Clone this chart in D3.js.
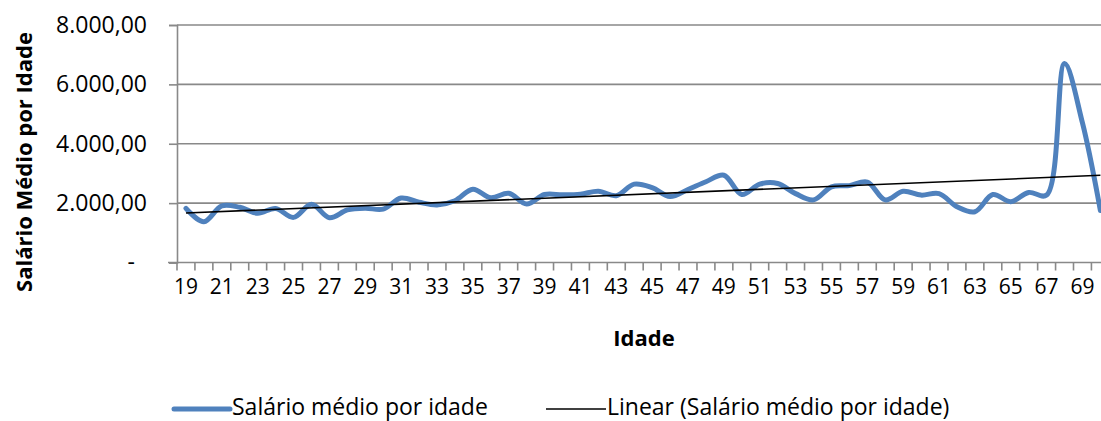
<!DOCTYPE html>
<html><head><meta charset="utf-8">
<script src="https://cdn.jsdelivr.net/npm/d3@7/dist/d3.min.js"></script>
<style>
body{margin:0;background:#fff}
svg{display:block;background:#fff}
text{font-family:"Open Sans",sans-serif;fill:#000}
</style>
</head><body>
<svg id="chart" width="1101" height="421"></svg>
<script>
// ---- data ----
const ages = [19,20,21,22,23,24,25,26,27,28,29,30,31,32,33,34,35,36,37,38,39,40,41,42,43,44,
              45,46,47,48,49,50,51,52,53,54,55,56,57,58,59,60,61,62,63,64,65,66,67,68,69,70];
const salaries = [1825,1375,1910,1860,1660,1820,1520,1960,1510,1770,1830,1800,2170,2030,1940,2080,
                  2470,2180,2330,1970,2290,2280,2300,2400,2250,2640,2520,2220,2460,2720,2940,2290,
                  2640,2660,2320,2110,2550,2590,2710,2110,2400,2270,2320,1880,1710,2290,2050,2360,
                  2270,6700,4700,1750];
const xTickLabels = [19,21,23,25,27,29,31,33,35,37,39,41,43,45,47,49,51,53,55,57,59,61,63,65,67,69];
const yTickValues = [0,2000,4000,6000,8000];
const yTickLabels = ["-","2.000,00","4.000,00","6.000,00","8.000,00"];
const seriesName = "Salário médio por idade";
const trendName = "Linear (Salário médio por idade)";
const xTitle = "Idade";
const yTitle = "Salário Médio por Idade";

// ---- layout ----
const svg = d3.select("#chart");
const plotLeft = 177, step = 17.93, plotTop = 25, plotBottom = 262.5;
const x = d3.scaleBand().domain(ages).range([plotLeft, plotLeft + step*ages.length]).padding(0);
const y = d3.scaleLinear().domain([0, 8000]).range([plotBottom, plotTop]);
const cx = a => x(a) + x.bandwidth()/2;
const gridCol = "#898989";

// gridlines
svg.append("g").selectAll("line").data(yTickValues.filter(v => v > 0)).join("line")
  .attr("x1", plotLeft).attr("x2", 1101)
  .attr("y1", d => y(d)).attr("y2", d => y(d))
  .attr("stroke", gridCol).attr("stroke-width", 1.6);

// y axis
const yAxis = d3.axisLeft(y).tickValues(yTickValues)
  .tickFormat((d,i) => yTickLabels[i]).tickSize(8).tickPadding(22);
const gy = svg.append("g").attr("transform", `translate(${plotLeft},0)`).call(yAxis);
gy.select(".domain").attr("stroke", gridCol).attr("stroke-width", 1.6);
gy.selectAll(".tick line").attr("stroke", gridCol).attr("stroke-width", 1.6);
gy.selectAll(".tick text").style("font-size", "23px").style("font-family", "'Open Sans',sans-serif").attr("fill", "#000")
  .attr("dx", d => d === 0 ? -12 : 0);

// x axis: labels at category centers, ticks at category boundaries
const xAxis = d3.axisBottom(x).tickValues(xTickLabels).tickSize(0).tickPadding(17);
const gx = svg.append("g").attr("transform", `translate(0,${plotBottom})`).call(xAxis);
gx.select(".domain").remove();
gx.selectAll(".tick text").style("font-size", "21px").style("font-family", "'Open Sans',sans-serif").attr("fill", "#000");
svg.append("line").attr("x1", plotLeft - 9).attr("x2", 1101).attr("y1", plotBottom).attr("y2", plotBottom)
  .attr("stroke", gridCol).attr("stroke-width", 1.6);
svg.append("g").selectAll("line").data(ages).join("line")
  .attr("x1", d => x(d)).attr("x2", d => x(d))
  .attr("y1", plotBottom).attr("y2", plotBottom + 8)
  .attr("stroke", gridCol).attr("stroke-width", 1.6);

// series line
const data = ages.map((a,i) => ({a, v: salaries[i]}));
const line = d3.line().x(d => cx(d.a)).y(d => y(d.v)).curve(d3.curveCatmullRom.alpha(0.5));
svg.append("path").datum(data).attr("d", line)
  .attr("fill", "none").attr("stroke", "#4f81bd").attr("stroke-width", 5)
  .attr("stroke-linejoin", "round").attr("stroke-linecap", "round");

// linear trend (least squares on data)
const mx = d3.mean(data, d => d.a), my = d3.mean(data, d => d.v);
const slope = d3.sum(data, d => (d.a-mx)*(d.v-my)) / d3.sum(data, d => (d.a-mx)**2);
const icpt = my - slope*mx;
const trend = [ages[0], ages[ages.length-1]].map(a => ({a, v: icpt + slope*a}));
svg.append("path").datum(trend).attr("d", d3.line().x(d => cx(d.a)).y(d => y(d.v)))
  .attr("fill", "none").attr("stroke", "#000").attr("stroke-width", 1.6);

// axis titles
svg.append("text").attr("x", 644).attr("y", 346).attr("text-anchor", "middle")
  .style("font-size", "22px").style("font-weight", "bold").text(xTitle);
svg.append("text").attr("transform", "translate(32,162) rotate(-90)").attr("text-anchor", "middle")
  .style("font-size", "22px").style("font-weight", "bold").text(yTitle);

// legend
const lg = svg.append("g");
lg.append("line").attr("x1", 174).attr("x2", 230).attr("y1", 409).attr("y2", 409)
  .attr("stroke", "#4f81bd").attr("stroke-width", 5).attr("stroke-linecap", "round");
lg.append("text").attr("x", 232).attr("y", 415).style("font-size", "23px").text(seriesName);
lg.append("line").attr("x1", 546).attr("x2", 606).attr("y1", 409).attr("y2", 409)
  .attr("stroke", "#000").attr("stroke-width", 1.6);
lg.append("text").attr("x", 607).attr("y", 415).style("font-size", "23px").text(trendName);
</script>
</body></html>
